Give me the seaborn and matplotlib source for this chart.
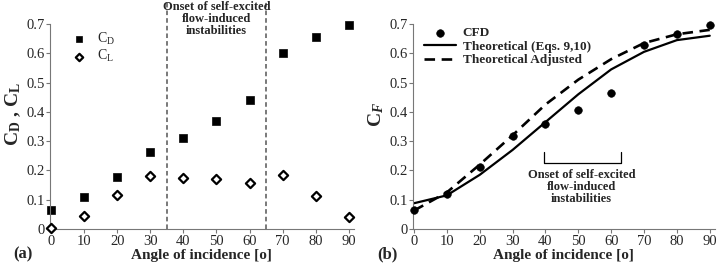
import seaborn as sns
import matplotlib.pyplot as plt

sns.set_style("ticks")
SERIF = "Liberation Serif"
plt.rcParams['font.family'] = 'serif'
plt.rcParams['font.serif'] = [SERIF, 'DejaVu Serif']
plt.rcParams['mathtext.fontset'] = 'custom'
plt.rcParams['mathtext.rm'] = SERIF
plt.rcParams['mathtext.it'] = SERIF + ':italic:bold'
plt.rcParams['mathtext.bf'] = SERIF + ':bold'

angle = [0, 10, 20, 30, 40, 50, 60, 70, 80, 90]
cd = [0.065, 0.11, 0.178, 0.262, 0.31, 0.37, 0.44, 0.60, 0.655, 0.695]
cl = [0.003, 0.046, 0.117, 0.18, 0.173, 0.17, 0.156, 0.185, 0.114, 0.042]
cfd = [0.065, 0.12, 0.213, 0.317, 0.357, 0.408, 0.465, 0.63, 0.665, 0.695]
theo = [0.088, 0.115, 0.185, 0.27, 0.365, 0.46, 0.545, 0.605, 0.645, 0.66]
theo_adj = [0.063, 0.125, 0.22, 0.32, 0.425, 0.51, 0.58, 0.635, 0.665, 0.68]
onset_text = "Onset of self-excited\nflow-induced\ninstabilities"

fig = plt.figure(figsize=(7.2, 2.72), dpi=100)
ax1 = fig.add_axes([0.0694, 0.158, 0.422, 0.842])
ax2 = fig.add_axes([0.5736, 0.158, 0.419, 0.842])

# (a) drag and lift
sns.scatterplot(x=angle, y=cd, ax=ax1, marker="s", s=36, color="black",
                edgecolor="black", label="C$_{\\mathrm{D}}$", clip_on=False)
sns.scatterplot(x=angle, y=cl, ax=ax1, marker="D", s=22, color="white",
                edgecolor="black", linewidth=1.6, label="C$_{\\mathrm{L}}$",
                clip_on=False, zorder=3)
for xv in [35, 65]:
    ax1.axvline(xv, color="#555555", ls="--", lw=1.1, dashes=(3, 2))
ax1.text(50, 0.779, onset_text, ha="center", va="top", fontsize=9,
         family=SERIF, fontweight="bold", linespacing=1.0)
ax1.set_ylabel("C$_{\\mathbf{D}}$ , C$_{\\mathbf{L}}$", fontsize=14,
               family=SERIF, fontweight="bold", labelpad=2)
ax1.legend(loc="upper left", bbox_to_anchor=(0.03, 0.89), frameon=False,
           prop={"family": SERIF, "size": 10}, handletextpad=0.3,
           labelspacing=0.1, borderaxespad=0, markerscale=0.8)

# (b) force coefficient
sns.scatterplot(x=angle, y=cfd, ax=ax2, marker="o", s=30, color="black",
                edgecolor="black", label="CFD", zorder=3, clip_on=False)
sns.lineplot(x=angle, y=theo, ax=ax2, color="black", lw=1.6,
             label="Theoretical (Eqs. 9,10)")
sns.lineplot(x=angle, y=theo_adj, ax=ax2, color="black", lw=1.9,
             ls=(0, (4, 2.5)), label="Theoretical Adjusted")
ax2.plot([39.5, 39.5, 63, 63], [0.262, 0.226, 0.226, 0.262], color="black", lw=0.9)
ax2.text(51, 0.205, onset_text, ha="center", va="top", fontsize=9,
         family=SERIF, fontweight="bold", linespacing=1.0)
ax2.set_ylabel("C$_{F}$", fontsize=14, family=SERIF, fontweight="bold", labelpad=2)
ax2.legend(loc="upper left", bbox_to_anchor=(0.02, 0.905), frameon=False,
           prop={"family": SERIF, "size": 9.5, "weight": "bold"}, handlelength=2.4,
           handletextpad=0.5, labelspacing=0.1, borderaxespad=0)

for ax, tag in [(ax1, "(a)"), (ax2, "(b)")]:
    ax.set_xlim(-0.3, 91.5)
    ax.set_ylim(0, 0.782)
    ax.set_xticks(angle)
    ax.set_yticks([0, 0.1, 0.2, 0.3, 0.4, 0.5, 0.6, 0.7])
    ax.set_yticklabels(["0", "0.1", "0.2", "0.3", "0.4", "0.5", "0.6", "0.7"])
    for lab in ax.get_xticklabels() + ax.get_yticklabels():
        lab.set_family(SERIF)
    ax.spines["top"].set_visible(False)
    ax.spines["right"].set_visible(False)
    ax.spines["left"].set_bounds(0, 0.7)
    ax.spines["left"].set_color("#777777")
    ax.spines["bottom"].set_color("#777777")
    ax.tick_params(labelsize=10.5, length=3, width=0.8, color="#777777", pad=1)
    ax.set_xlabel("Angle of incidence [o]", fontsize=11, family=SERIF,
                  fontweight="bold", labelpad=1)
    ax.text(-0.12, -0.075, tag, transform=ax.transAxes, fontsize=12,
            family=SERIF, fontweight="bold", ha="left", va="top")

fig.savefig("out.png", dpi=100)
